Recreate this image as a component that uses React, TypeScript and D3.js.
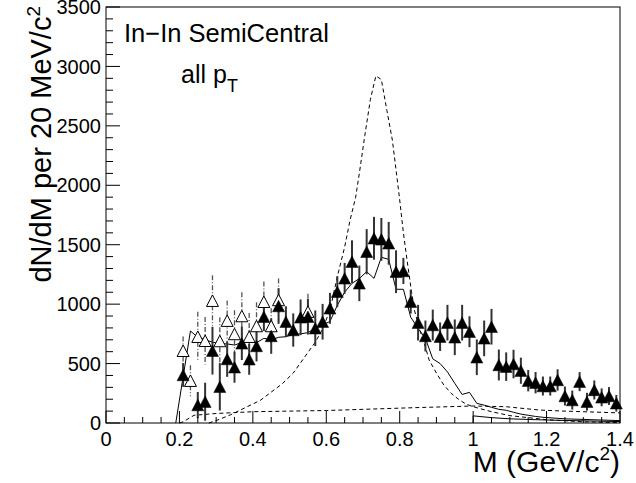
import React from "react";
import * as d3 from "d3";

// Filled triangles: mass, value, error
const filledMass = [0.21,0.25,0.27,0.29,0.31,0.33,0.35,0.37,0.39,0.41,0.43,0.45,0.47,0.49,0.51,0.53,0.55,0.57,0.59,0.61,0.63,0.65,0.67,0.69,0.71,0.73,0.75,0.77,0.79,0.81,0.83,0.85,0.87,0.89,0.91,0.93,0.95,0.97,0.99,1.01,1.03,1.05,1.07,1.09,1.11,1.13,1.15,1.17,1.19,1.21,1.23,1.25,1.27,1.29,1.31,1.33,1.35,1.37,1.39];
const filledValue = [404,151,179,608,305,538,469,670,536,648,894,732,984,852,782,889,894,797,852,965,1105,1217,1357,1175,1441,1554,1545,1512,1273,1279,1021,844,732,824,726,844,721,844,768,553,712,810,488,474,496,440,356,339,311,311,362,227,193,348,179,278,216,227,166];
const filledError = [100,110,160,200,200,150,130,140,130,130,120,150,150,130,140,150,150,150,150,130,130,130,180,150,190,180,180,180,180,110,100,150,130,130,120,150,150,150,130,150,150,150,130,120,120,110,90,90,80,80,90,80,80,80,75,80,75,75,70];

// Open triangles
const openMass = [0.21,0.23,0.25,0.27,0.29,0.31,0.33,0.35,0.37,0.39,0.41,0.43,0.45,0.47,0.55];
const openValue = [608,356,726,692,1029,690,861,749,900,726,816,1020,816,1035,937];
const openError = [120,130,210,200,215,200,170,200,200,200,200,170,150,180,150];

// Solid model curve
const solidMass = [0.19,0.23,0.25,0.27,0.29,0.31,0.33,0.35,0.37,0.39,0.41,0.43,0.45,0.47,0.49,0.51,0.53,0.55,0.57,0.59,0.61,0.63,0.65,0.67,0.69,0.71,0.73,0.75,0.77,0.79,0.81,0.83,0.85,0.87,0.89,0.91,0.93,0.95,0.97,0.99,1.01,1.03,1.05,1.07,1.09,1.11,1.13,1.15,1.17,1.19,1.25,1.3,1.35,1.4];
const solidValue = [0,774,721,700,680,668,665,656,676,685,676,712,700,721,726,745,750,760,797,824,855,990,1100,1175,1215,1273,1217,1394,1377,1125,1125,890,797,712,540,500,430,334,240,258,165,150,132,115,107,90,75,65,55,48,35,30,25,20];

// Dashed peak curve
const peakMass = [0.28,0.3,0.34,0.38,0.42,0.45,0.48,0.51,0.54,0.57,0.59,0.61,0.63,0.65,0.665,0.68,0.69,0.705,0.72,0.735,0.75,0.765,0.78,0.79,0.8,0.81,0.82,0.83,0.84,0.855,0.87,0.88,0.9,0.92,0.94,0.96,0.98,1.0,1.05,1.1,1.15,1.2,1.3,1.4];
const peakValue = [0,20,70,130,190,260,330,420,550,680,790,950,1230,1480,1710,1900,2100,2420,2720,2920,2890,2630,2380,2130,1876,1600,1370,1150,950,780,640,530,420,320,250,200,160,137,95,62,45,28,10,3];

// Dashed flat curve
const flatMass = [0.2,0.21,0.24,0.3,0.4,0.5,0.6,0.7,0.85,1.0,1.09,1.18,1.25,1.4];
const flatValue = [0,10,65,80,95,100,105,115,130,143,137,109,100,85];

// Lower solid curve above 1 GeV
const lowMass = [1.0,1.0,1.05,1.1,1.2,1.3,1.4];
const lowValue = [0,60,45,35,25,18,12];

const yMajor = [0,500,1000,1500,2000,2500,3000,3500];
const xMajor = [0,0.2,0.4,0.6,0.8,1.0,1.2,1.4];
const xMajorLabels = ["0","0.2","0.4","0.6","0.8","1","1.2","1.4"];

const FONT = "'Liberation Sans', Arial, Helvetica, sans-serif";

export default function App() {
  const W = 636, H = 483;
  const left = 106, right = 620, top = 7, bottom = 423;
  const x = d3.scaleLinear().domain([0, 1.4]).range([left, right]);
  const y = d3.scaleLinear().domain([0, 3500]).range([bottom, top]);

  const line = d3.line<[number, number]>().x(d => x(d[0])).y(d => y(d[1]));
  const zip = (a: number[], b: number[]) => a.map((m, i) => [m, b[i]] as [number, number]);

  const yMinor = d3.range(0, 3501, 100);
  const xMinor = d3.range(0, 1.4001, 0.05);

  const tri = (cx: number, cy: number) => {
    const hw = 6, h = 11.5;
    return `M${cx - hw},${cy + h / 2}L${cx + hw},${cy + h / 2}L${cx},${cy - h / 2}Z`;
  };

  return (
    <svg width={W} height={H} style={{ position: "absolute", left: 0, top: 0, background: "#fff" }} fontFamily={FONT}>
      <rect x={0} y={0} width={W} height={H} fill="#fff" />
      {/* curves */}
      <path d={line(zip(flatMass, flatValue)) || ""} fill="none" stroke="#000" strokeWidth={1} strokeDasharray="4,3" />
      <path d={line(zip(peakMass, peakValue)) || ""} fill="none" stroke="#000" strokeWidth={1} strokeDasharray="4,3" />
      <path d={line(zip(lowMass, lowValue)) || ""} fill="none" stroke="#000" strokeWidth={1} />
      <path d={line(zip(solidMass, solidValue)) || ""} fill="none" stroke="#000" strokeWidth={1} />

      {/* open triangle error bars */}
      {openMass.map((m, i) => (
        <line key={"oe" + i} x1={x(m)} x2={x(m)} y1={y(openValue[i] + openError[i])} y2={y(Math.max(0, openValue[i] - openError[i]))}
          stroke="#555" strokeWidth={1.3} strokeDasharray="5,2,1,2" />
      ))}
      {/* filled error bars */}
      {filledMass.map((m, i) => (
        <line key={"fe" + i} x1={x(m)} x2={x(m)} y1={y(filledValue[i] + filledError[i])} y2={y(Math.max(0, filledValue[i] - filledError[i]))}
          stroke="#333" strokeWidth={2} />
      ))}
      {/* open triangles */}
      {openMass.map((m, i) => (
        <path key={"om" + i} d={tri(x(m), y(openValue[i]))} fill="#fff" stroke="#000" strokeWidth={1} />
      ))}
      {/* filled triangles */}
      {filledMass.map((m, i) => (
        <path key={"fm" + i} d={tri(x(m), y(filledValue[i]))} fill="#000" stroke="#000" strokeWidth={0.5} />
      ))}

      {/* frame */}
      <rect x={left} y={top} width={right - left} height={bottom - top} fill="none" stroke="#000" strokeWidth={1} />

      {/* y ticks */}
      {yMinor.map((v, i) => (
        <line key={"ym" + i} x1={left} x2={left + (v % 500 === 0 ? 14 : 7)} y1={y(v)} y2={y(v)} stroke="#000" strokeWidth={1} />
      ))}
      {yMajor.map((v, i) => (
        <text key={"yl" + i} x={left - 5} y={y(v)} dy="0.36em" textAnchor="end" fontSize={20} fill="#000">{v}</text>
      ))}
      {/* x ticks */}
      {xMinor.map((v, i) => (
        <line key={"xm" + i} x1={x(v)} x2={x(v)} y1={bottom} y2={bottom - (i % 4 === 0 ? 12 : 6)} stroke="#000" strokeWidth={1} />
      ))}
      {xMajor.map((v, i) => (
        <text key={"xl" + i} x={x(v)} y={446} textAnchor="middle" fontSize={20} fill="#000">{xMajorLabels[i]}</text>
      ))}

      {/* axis titles */}
      <text x={620} y={472} textAnchor="end" fontSize={30} fill="#000">
        M (GeV/c<tspan dy={-12} fontSize={19}>2</tspan><tspan dy={12}>)</tspan>
      </text>
      <text transform="translate(51,6) rotate(-90)" textAnchor="end" fontSize={29} fill="#000">
        dN/dM per 20 MeV/c<tspan dy={-11} fontSize={19}>2</tspan>
      </text>

      {/* labels */}
      <text x={124} y={42} fontSize={25.5} fill="#000">In−In SemiCentral</text>
      <text x={181} y={83} fontSize={25} fill="#000">
        all p<tspan dy={9} fontSize={18}>T</tspan>
      </text>
    </svg>
  );
}
